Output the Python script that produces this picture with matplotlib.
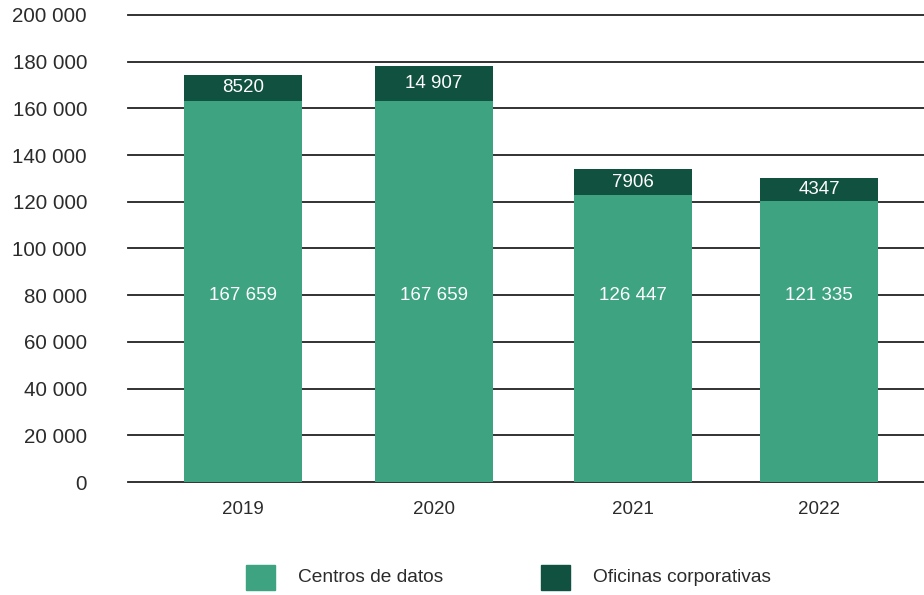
import matplotlib
matplotlib.use("Agg")
import matplotlib.pyplot as plt
from matplotlib.patches import Rectangle

# ── data (bar heights, labels as printed) ─────────────────────────────────────
years = ["2019", "2020", "2021", "2022"]
centros = [163300, 163300, 122900, 120300]
oficinas = [11000, 14900, 11100, 9900]
centros_lbl = ["167 659", "167 659", "126 447", "121 335"]
oficinas_lbl = ["8520", "14 907", "7906", "4347"]
yticks = [0, 20000, 40000, 60000, 80000, 100000, 120000, 140000, 160000, 180000, 200000]

# ── layout ────────────────────────────────────────────────────────────────────
X_POS = [243, 434, 633, 819]
BAR_W = 118
GREEN = "#3da381"
DARK = "#11513f"
TXT = "#2b2b2b"

plt.rcParams["font.family"] = ["Liberation Sans", "DejaVu Sans"]

fig = plt.figure(figsize=(9.24, 5.95), dpi=100)
ax = fig.add_axes([128 / 924, 1 - 482 / 595, 1 - 128 / 924, (482 - 15) / 595])
ax.set_xlim(128, 924)
ax.set_ylim(0, 200000)

for y in yticks:
    ax.axhline(y, color="#222222", lw=1.3, zorder=1, clip_on=False)

ax.bar(X_POS, centros, width=BAR_W, color=GREEN, zorder=2)
ax.bar(X_POS, oficinas, width=BAR_W, bottom=centros, color=DARK, zorder=2)

for x, c, o, lc, lo in zip(X_POS, centros, oficinas, centros_lbl, oficinas_lbl):
    ax.text(x, 80000, lc, ha="center", va="center", color="white", fontsize=13.5, zorder=3)
    ax.text(x, c + o / 2, lo, ha="center", va="center", color="white", fontsize=13.5, zorder=3)

ax.set_yticks(yticks)
ax.set_yticklabels([f"{v:,}".replace(",", " ") for v in yticks], fontsize=14.8, color=TXT)
ax.set_xticks(X_POS)
ax.set_xticklabels(years, fontsize=13.5, color=TXT)
ax.tick_params(axis="y", length=0, pad=29.5)
ax.tick_params(axis="x", length=0, pad=14)
for s in ax.spines.values():
    s.set_visible(False)

# ── legend ────────────────────────────────────────────────────────────────────
for x0, col, name in ((246, GREEN, "Centros de datos"), (541, DARK, "Oficinas corporativas")):
    fig.patches.append(Rectangle((x0 / 924, 1 - 590 / 595), 29 / 924, 25 / 595,
                                 transform=fig.transFigure, color=col))
    fig.text((x0 + 52) / 924, 1 - 578 / 595, name, ha="left", va="center",
             fontsize=13.8, color=TXT)

fig.savefig("out.png", dpi=100)
